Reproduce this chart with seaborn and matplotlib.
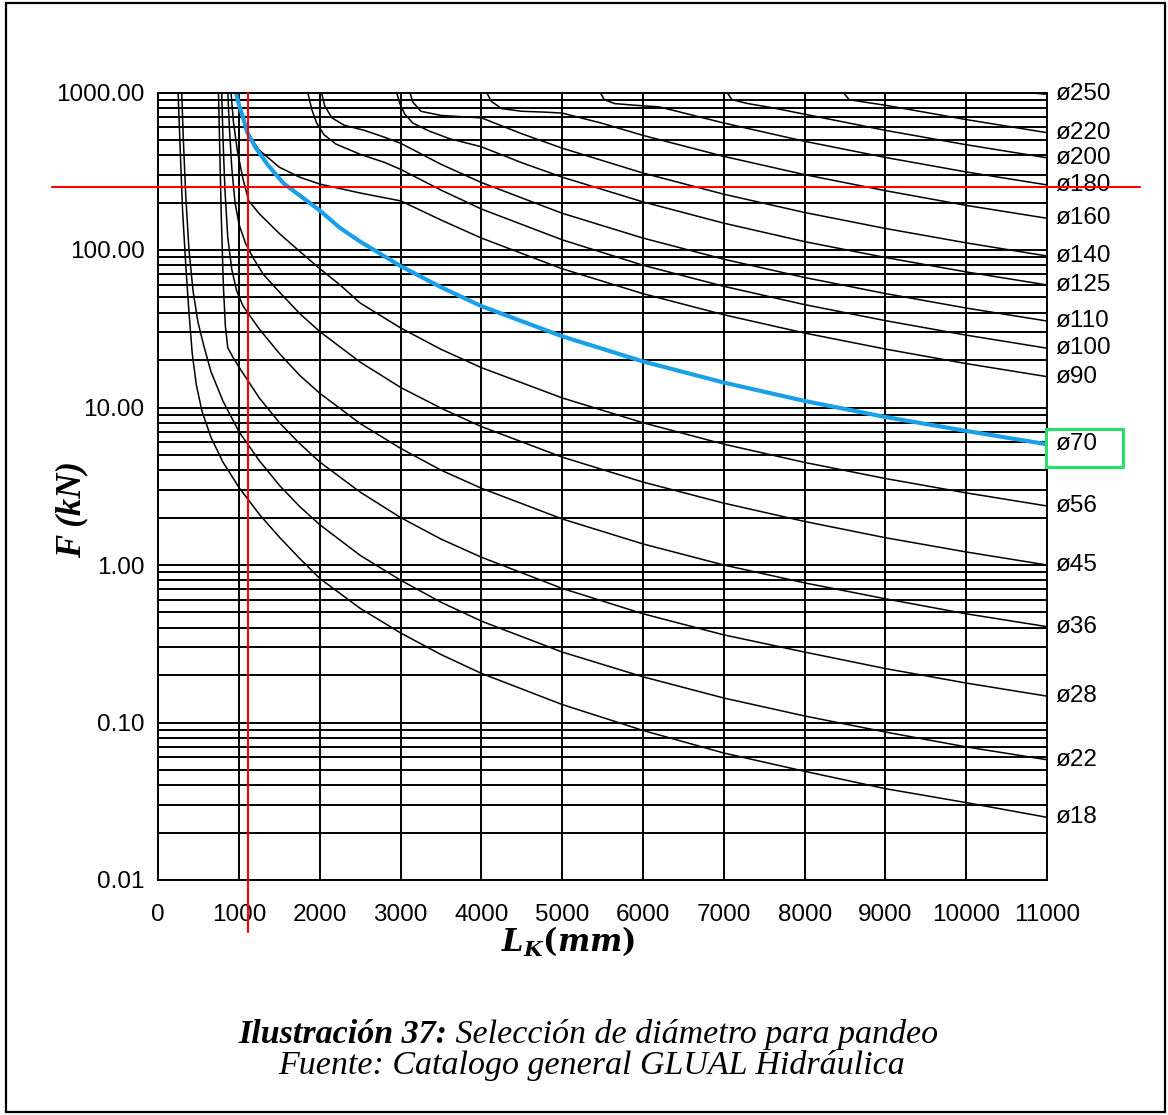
import pandas as pd
import matplotlib
matplotlib.use("Agg")
import matplotlib.pyplot as plt
import matplotlib.transforms as mtransforms
from matplotlib.patches import Rectangle
from matplotlib.ticker import FixedLocator, LogLocator, NullFormatter, FuncFormatter
import seaborn as sns

#------------------------------------
# Curves: L_K (mm) -> admissible force F (kN), one per rod diameter
diametros = [18, 22, 28, 36, 45, 56, 70, 90, 100, 110, 125, 140, 160, 180, 200, 220, 250]

L_18 = [245, 270, 300, 340, 380, 420, 470, 540, 650, 800, 1000, 1250, 1500, 1750, 2000, 2500, 3000, 3500, 4000, 5000, 6000, 7000, 8000, 9000, 10000, 11000]
F_18 = [1000, 450, 180, 80, 40, 22, 14, 9.5, 6.5, 4.5, 3.1, 2.1, 1.5, 1.1, 0.82, 0.53, 0.37, 0.27, 0.205, 0.13, 0.089, 0.064, 0.049, 0.038, 0.031, 0.025]
L_22 = [290, 310, 340, 380, 430, 490, 560, 650, 800, 1000, 1250, 1500, 1750, 2000, 2500, 3000, 3500, 4000, 5000, 6000, 7000, 8000, 9000, 10000, 11000]
F_22 = [1000, 500, 220, 100, 55, 35, 25, 17, 11, 7.0, 4.6, 3.2, 2.35, 1.8, 1.15, 0.8, 0.58, 0.44, 0.28, 0.195, 0.143, 0.11, 0.087, 0.07, 0.058]
L_28 = [745, 760, 780, 805, 830, 860, 920, 1000, 1250, 1500, 1750, 2000, 2500, 3000, 3500, 4000, 5000, 6000, 7000, 8000, 9000, 10000, 11000]
F_28 = [1000, 450, 160, 60, 33, 24, 21, 18, 11.5, 8.0, 5.9, 4.5, 2.9, 2.0, 1.46, 1.12, 0.71, 0.49, 0.36, 0.28, 0.22, 0.178, 0.147]
L_36 = [785, 800, 825, 860, 910, 970, 1050, 1250, 1500, 1750, 2000, 2500, 3000, 3500, 4000, 5000, 6000, 7000, 8000, 9000, 10000, 11000]
F_36 = [1000, 520, 240, 120, 75, 55, 44, 31.5, 22, 16, 12.3, 7.9, 5.5, 4.0, 3.07, 1.96, 1.36, 1.0, 0.77, 0.61, 0.49, 0.406]
L_45 = [860, 880, 910, 950, 1000, 1080, 1180, 1300, 1500, 1750, 2000, 2500, 3000, 3500, 4000, 5000, 6000, 7000, 8000, 9000, 10000, 11000]
F_45 = [1000, 600, 330, 200, 145, 110, 88, 70, 54, 39.5, 30.3, 19.4, 13.4, 9.9, 7.56, 4.84, 3.36, 2.47, 1.89, 1.49, 1.21, 1.0]
L_56 = [900, 930, 980, 1050, 1120, 1250, 1500, 1750, 2000, 2250, 2500, 3000, 3500, 4000, 5000, 6000, 7000, 8000, 9000, 10000, 11000]
F_56 = [1000, 650, 420, 280, 205, 170, 127, 98, 76, 60, 46, 32, 23.4, 17.9, 11.5, 8.0, 5.85, 4.48, 3.54, 2.87, 2.37]
L_70 = [960, 1000, 1050, 1100, 1200, 1350, 1550, 1750, 2000, 2250, 2500, 3000, 3500, 4000, 5000, 6000, 7000, 8000, 9000, 10000, 11000]
F_70 = [1000, 830, 690, 560, 450, 350, 265, 222, 178, 138, 113, 79, 58, 44, 28.3, 19.6, 14.4, 11.0, 8.7, 7.1, 5.84]
L_90 = [1100, 1250, 1500, 1750, 2000, 2500, 3000, 3500, 4000, 5000, 6000, 7000, 8000, 9000, 10000, 11000]
F_90 = [560, 430, 335, 290, 262, 230, 205, 155, 119, 76, 52.8, 38.8, 29.7, 23.5, 19.0, 15.7]
L_100 = [1850, 1900, 1960, 2050, 2200, 2500, 2800, 3000, 3500, 4000, 5000, 6000, 7000, 8000, 9000, 10000, 11000]
F_100 = [1000, 780, 640, 540, 470, 405, 360, 325, 240, 182, 116, 80, 58.8, 45, 35.6, 28.8, 23.8]
L_110 = [2020, 2060, 2150, 2300, 2550, 2800, 3000, 3500, 4000, 5000, 6000, 7000, 8000, 9000, 10000, 11000]
F_110 = [1000, 820, 690, 620, 575, 520, 476, 350, 268, 171, 119, 87.4, 66.9, 52.9, 42.8, 35.4]
L_125 = [2950, 2990, 3050, 3150, 3350, 3600, 4000, 4500, 5000, 6000, 7000, 8000, 9000, 10000, 11000]
F_125 = [1000, 850, 730, 640, 570, 510, 452, 358, 290, 202, 148, 113, 89.6, 72.6, 60]
L_140 = [3115, 3150, 3250, 3500, 3800, 4000, 4500, 5000, 6000, 7000, 8000, 9000, 10000, 11000]
F_140 = [1000, 870, 760, 715, 700, 690, 547, 443, 308, 226, 173, 137, 111, 91.6]
L_160 = [4065, 4120, 4250, 4500, 4800, 5000, 5500, 6000, 7000, 8000, 9000, 10000, 11000]
F_160 = [1000, 880, 790, 760, 750, 740, 636, 534, 393, 301, 238, 192, 159]
L_180 = [5470, 5520, 5650, 5900, 6200, 6500, 7000, 8000, 9000, 10000, 11000]
F_180 = [1000, 900, 850, 830, 810, 742, 640, 490, 387, 313, 259]
L_200 = [7040, 7100, 7300, 7600, 8000, 9000, 10000, 11000]
F_200 = [1000, 900, 850, 800, 728, 575, 466, 385]
L_220 = [8480, 8550, 8800, 9000, 10000, 11000]
F_220 = [1000, 900, 860, 830, 673, 556]
L_250 = [10800, 11000]
F_250 = [995, 974]

curvas = {18: (L_18, F_18), 22: (L_22, F_22), 28: (L_28, F_28), 36: (L_36, F_36),
          45: (L_45, F_45), 56: (L_56, F_56), 70: (L_70, F_70), 90: (L_90, F_90),
          100: (L_100, F_100), 110: (L_110, F_110), 125: (L_125, F_125), 140: (L_140, F_140),
          160: (L_160, F_160), 180: (L_180, F_180), 200: (L_200, F_200), 220: (L_220, F_220),
          250: (L_250, F_250)}
d_sel = 70           # selected diameter (blue)
L_sel = 1105         # red vertical: buckling length
F_sel = 250          # red horizontal: force

lk_ticks = list(range(0, 11001, 1000))
f_ticks = [0.01, 0.1, 1, 10, 100, 1000]

rows = []
for d in diametros:
    if d == d_sel:
        continue
    for l, f in zip(*curvas[d]):
        rows.append({'d': d, 'L': l, 'F': f})
df = pd.DataFrame(rows)

#------------------------------------
sns.set_style("white")
plt.rcParams['font.family'] = ['Liberation Sans', 'DejaVu Sans']
plt.rcParams['text.color'] = 'black'
plt.rcParams['xtick.color'] = 'black'
plt.rcParams['ytick.color'] = 'black'
plt.rcParams['mathtext.fontset'] = 'custom'
plt.rcParams['mathtext.it'] = 'DejaVu Serif:italic:bold'
plt.rcParams['mathtext.rm'] = 'DejaVu Serif:bold'
plt.rcParams['mathtext.bf'] = 'DejaVu Serif:bold'

W, H = 1168, 1115
fig = plt.figure(figsize=(W / 100, H / 100), dpi=100)
ax = fig.add_axes([158.3 / W, 1 - 880 / H, (1047 - 158.3) / W, (880 - 92.5) / H])

sns.lineplot(data=df, x='L', y='F', units='d', estimator=None, sort=False,
             color='black', lw=1.1, ax=ax, legend=False)
sns.lineplot(x=curvas[d_sel][0], y=curvas[d_sel][1], estimator=None, sort=False,
             color='#1aa0e8', lw=3.0, ax=ax)

ax.set_yscale('log')
ax.set_xlim(0, 11000)
ax.set_ylim(0.01, 1000)
ax.set_xlabel('')
ax.set_ylabel('')

ax.xaxis.set_major_locator(FixedLocator(lk_ticks))
ax.yaxis.set_major_locator(FixedLocator(f_ticks))
ax.yaxis.set_minor_locator(LogLocator(base=10, subs=range(2, 10)))
ax.yaxis.set_minor_formatter(NullFormatter())
ax.yaxis.set_major_formatter(FuncFormatter(lambda v, p: f'{v:.2f}'))
ax.set_axisbelow(True)
ax.grid(which='both', axis='y', color='black', lw=1.4)
ax.grid(which='major', axis='x', color='black', lw=1.4)
for s in ax.spines.values():
    s.set_color('black')
    s.set_linewidth(1.4)
ax.tick_params(axis='y', which='major', length=6, width=1.2, pad=4, labelsize=17.5)
ax.tick_params(axis='y', which='minor', length=0)
ax.tick_params(axis='x', length=0, pad=17, labelsize=17.5)

# diameter labels at the right end of each curve
for d in diametros:
    ax.annotate(f'ø{d}', xy=(curvas[d][0][-1], curvas[d][1][-1]), xytext=(6, 0),
                textcoords='offset points', ha='left', va='center', fontsize=17.5,
                annotation_clip=False)

# red selection lines (run past the frame)
tr_h = mtransforms.blended_transform_factory(ax.transAxes, ax.transData)
tr_v = mtransforms.blended_transform_factory(ax.transData, ax.transAxes)
ax.plot([-0.12, 1.105], [F_sel, F_sel], color='red', lw=1.5, transform=tr_h, clip_on=False, zorder=5)
ax.plot([L_sel, L_sel], [1.0, -0.066], color='red', lw=1.5, transform=tr_v, clip_on=False, zorder=5)

# green box around the selected label
fig.patches.append(Rectangle((1045.7 / W, 1 - 466.7 / H), 77.6 / W, 37.7 / H, transform=fig.transFigure,
                             fill=False, edgecolor='#25e06a', lw=2.2))
# page frame
fig.patches.append(Rectangle((6 / W, 3 / H), 1159 / W, 1109 / H, transform=fig.transFigure,
                             fill=False, edgecolor='black', lw=1.6))

# axis titles
serif = ['Liberation Serif', 'DejaVu Serif']
fig.text(72 / W, 1 - 510 / H, 'F (kN)', family=serif, fontweight='bold', fontstyle='italic',
         rotation=90, ha='center', va='center', fontsize=25)
fig.text(568 / W, 1 - 942 / H, r'$L_K(mm)$', ha='center', va='center', fontsize=22)

# caption
r = fig.canvas.get_renderer()
t1 = fig.text(0, 1 - 1043 / H, 'Ilustración 37:', family=serif, fontsize=24.5, fontweight='bold',
              fontstyle='italic', va='baseline')
t2 = fig.text(0, 1 - 1043 / H, ' Selección de diámetro para pandeo', family=serif, fontsize=24.5,
              fontstyle='italic', va='baseline')
w1 = t1.get_window_extent(r).width
w2 = t2.get_window_extent(r).width
x0 = 588 - (w1 + w2) / 2
t1.set_x(x0 / W)
t2.set_x((x0 + w1) / W)
fig.text(592 / W, 1 - 1074 / H, 'Fuente: Catalogo general GLUAL Hidráulica', family=serif,
         fontsize=24.5, fontstyle='italic', ha='center', va='baseline')

fig.savefig('out.png', dpi=100)
